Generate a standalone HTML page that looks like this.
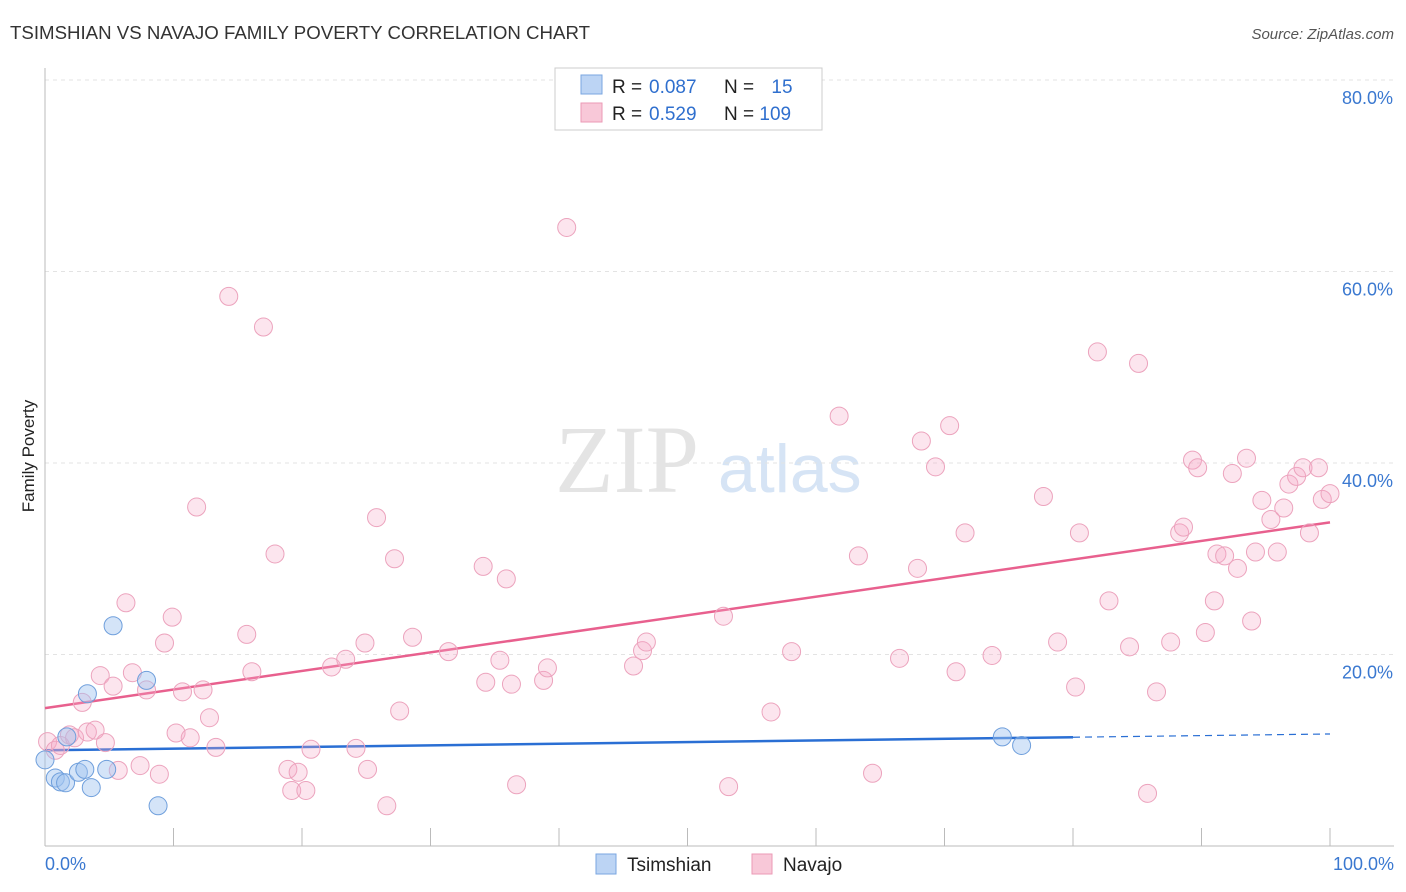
<!DOCTYPE html>
<html><head><meta charset="utf-8"><style>
body{margin:0;background:#fff;font-family:"Liberation Sans",sans-serif;}
#wrap{position:relative;width:1406px;height:892px;overflow:hidden}
</style></head><body>
<div id="wrap">
<svg id="chart" width="1406" height="892" xmlns="http://www.w3.org/2000/svg">
<text x="10" y="39" font-size="18" fill="#333" textLength="580" lengthAdjust="spacingAndGlyphs">TSIMSHIAN VS NAVAJO FAMILY POVERTY CORRELATION CHART</text>
<text x="1394" y="39" font-size="15" fill="#555" font-style="italic" text-anchor="end">Source: ZipAtlas.com</text>
<text x="34" y="456" font-size="17" fill="#222" text-anchor="middle" transform="rotate(-90 34 456)">Family Poverty</text>
<text x="555" y="492" font-size="96" fill="#e4e4e4" font-family="Liberation Serif,serif">ZIP</text>
<text x="718" y="492" font-size="68" fill="#d6e4f5">atlas</text>
<g id="grid"></g><g id="axes"></g><g id="trends"></g><g id="pts"></g>
<g>
<rect x="555" y="68" width="267" height="62" fill="#fff" stroke="#ccc"/>
<rect x="581" y="75" width="21" height="19" fill="#bcd4f4" stroke="#7aa6e0"/>
<rect x="581" y="103" width="21" height="19" fill="#f8c8d8" stroke="#eb9ab6"/>
<text x="612" y="93" font-size="19" fill="#222">R = <tspan fill="#2f6fce" x="649">0.087</tspan></text>
<text x="724" y="93" font-size="19" fill="#222">N = <tspan fill="#2f6fce" dx="12">15</tspan></text>
<text x="612" y="120" font-size="19" fill="#222">R = <tspan fill="#2f6fce" x="649">0.529</tspan></text>
<text x="724" y="120" font-size="19" fill="#222">N = <tspan fill="#2f6fce">109</tspan></text>
</g>
<g>
<rect x="596" y="854" width="20" height="20" fill="#bcd4f4" stroke="#7aa6e0"/>
<text x="627" y="871" font-size="19" fill="#222">Tsimshian</text></g>
<g>
<rect x="752" y="854" width="20" height="20" fill="#f8c8d8" stroke="#eb9ab6"/>
<text x="783" y="871" font-size="19" fill="#222">Navajo</text></g>
</svg></div>
<script>
const yTicks=[20,40,60,80];
const xTickLabels=["0.0%","100.0%"];
const navajoX=[0.2,0.8,1.2,1.9,2.3,2.9,3.3,3.9,4.3,4.7,5.3,5.7,6.3,6.8,7.4,7.9,8.9,9.3,9.9,10.2,10.7,11.3,11.8,12.3,12.8,13.3,14.3,15.7,16.1,17.0,17.9,18.9,19.2,19.7,20.3,20.7,22.3,23.4,24.2,24.9,25.1,25.8,26.6,27.2,27.6,28.6,31.4,34.1,34.3,35.4,35.9,36.3,36.7,38.8,39.1,40.6,45.8,46.5,46.8,52.8,53.2,56.5,58.1,61.8,63.3,64.4,66.5,67.9,68.2,69.3,70.4,70.9,71.6,73.7,77.7,78.8,80.2,80.5,81.9,82.8,84.4,85.1,85.8,86.5,87.6,88.3,88.6,89.3,89.7,90.3,91.0,91.2,91.8,92.4,92.8,93.5,93.9,94.2,94.7,95.4,95.9,96.4,96.8,97.4,97.9,98.4,99.1,99.4,100];
const navajoY=[10.9,10.0,10.5,11.6,11.3,15.0,11.9,12.1,17.8,10.8,16.7,7.9,25.4,18.1,8.4,16.3,7.5,21.2,23.9,11.8,16.1,11.3,35.4,16.3,13.4,10.3,57.4,22.1,18.2,54.2,30.5,8.0,5.8,7.7,5.8,10.1,18.7,19.5,10.2,21.2,8.0,34.3,4.2,30.0,14.1,21.8,20.3,29.2,17.1,19.4,27.9,16.9,6.4,17.3,18.6,64.6,18.8,20.4,21.3,24.0,6.2,14.0,20.3,44.9,30.3,7.6,19.6,29.0,42.3,39.6,43.9,18.2,32.7,19.9,36.5,21.3,16.6,32.7,51.6,25.6,20.8,50.4,5.5,16.1,21.3,32.7,33.3,40.3,39.5,22.3,25.6,30.5,30.3,38.9,29.0,40.5,23.5,30.7,36.1,34.1,30.7,35.3,37.8,38.6,39.5,32.7,39.5,36.2,36.8];
const tsimX=[0,0.8,1.2,1.6,1.7,2.6,3.1,3.3,3.6,4.8,5.3,7.9,8.8,74.5,76.0];
const tsimY=[9.0,7.1,6.7,6.6,11.4,7.7,8.0,15.9,6.1,8.0,23.0,17.3,4.2,11.4,10.5];
const navajoTrend=[14.4,33.8];
const tsimTrend=[10.0,11.7];
const X0=45,X1=1330,Y0=846,PX=(1330-45)/100,PY=(846-463)/40;
const sx=v=>X0+v*PX, sy=v=>Y0-v*PY;
const NS="http://www.w3.org/2000/svg";
function mk(tag,attrs,parent){const e=document.createElementNS(NS,tag);for(const k in attrs)e.setAttribute(k,attrs[k]);document.getElementById(parent).appendChild(e);return e;}
yTicks.forEach(t=>{
 const l=mk('line',{x1:45,x2:1394,y1:sy(t),y2:sy(t),stroke:'#e3e3e3','stroke-dasharray':'4 4'},'grid');
 
 
 const tx=mk('text',{x:1393,y:sy(t)+24,'font-size':18,fill:'#3a78d0','text-anchor':'end'},'grid');
 tx.textContent=t.toFixed(1)+'%';
 
 
});
const ax=mk('line',{x1:45,x2:45,y1:68,y2:846,stroke:'#bbb'},'axes');


const bx=mk('line',{x1:45,x2:1394,y1:846,y2:846,stroke:'#bbb'},'axes');


for(let i=0;i<=10;i++){const t=mk('line',{x1:sx(i*10),x2:sx(i*10),y1:828,y2:846,stroke:'#bbb'},'axes');
 
 }
const xl0=mk('text',{x:45,y:870,'font-size':18,fill:'#3a78d0'},'axes');xl0.textContent=xTickLabels[0];


const xl1=mk('text',{x:1394,y:870,'font-size':18,fill:'#3a78d0','text-anchor':'end'},'axes');xl1.textContent=xTickLabels[1];


navajoX.forEach((x,i)=>{const c=mk('circle',{cx:sx(x),cy:sy(navajoY[i]),r:9,fill:'rgba(246,170,198,0.3)',stroke:'#eca3bd','stroke-width':1},'pts');
 
 });
tsimX.forEach((x,i)=>{const c=mk('circle',{cx:sx(x),cy:sy(tsimY[i]),r:9,fill:'rgba(160,195,240,0.45)',stroke:'#6f9fdc','stroke-width':1},'pts');
 
 });
const pl=mk('line',{x1:sx(0),y1:sy(navajoTrend[0]),x2:sx(100),y2:sy(navajoTrend[1]),stroke:'#e8608e','stroke-width':2.5},'trends');


const tAt=x=>tsimTrend[0]+(tsimTrend[1]-tsimTrend[0])*x/100;
const bl=mk('line',{x1:sx(0),y1:sy(tAt(0)),x2:sx(80),y2:sy(tAt(80)),stroke:'#2a6fd4','stroke-width':2.5},'trends');


const bd=mk('line',{x1:sx(80),y1:sy(tAt(80)),x2:sx(100),y2:sy(tAt(100)),stroke:'#2a6fd4','stroke-width':1.2,'stroke-dasharray':'7 5'},'trends');


</script>
</body></html>
